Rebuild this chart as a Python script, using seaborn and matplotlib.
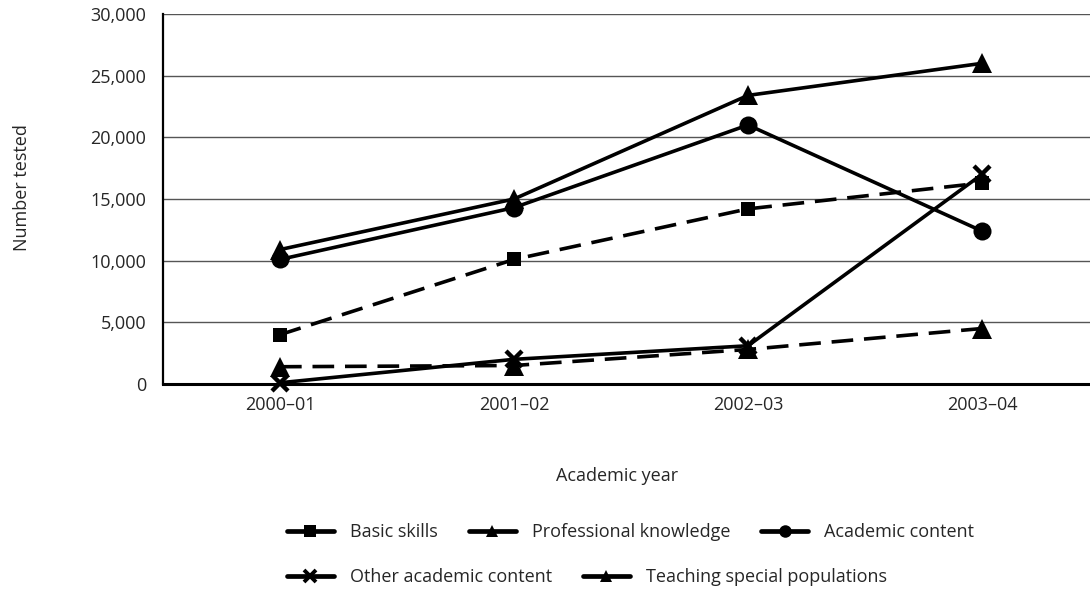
import matplotlib
matplotlib.use("Agg")
import matplotlib.pyplot as plt
from matplotlib.lines import Line2D
import seaborn as sns

# =========================
# DATA
# =========================

years = ["2000–01", "2001–02", "2002–03", "2003–04"]

basic_skills = [4000, 10100, 14200, 16300]
professional_knowledge = [10900, 15000, 23400, 26000]
academic_content = [10100, 14300, 21000, 12400]
other_academic_content = [100, 2000, 3100, 17000]
teaching_special = [1400, 1500, 2800, 4500]

y_ticks = [0, 5000, 10000, 15000, 20000, 25000, 30000]

# =========================
# STYLE
# =========================

sns.set_style("white")
plt.rcParams["font.family"] = ["Open Sans", "DejaVu Sans"]
plt.rcParams["font.size"] = 13

fig = plt.figure(figsize=(10.9, 5.9), dpi=100)
ax = fig.add_axes([163 / 1090, 1 - 384 / 590, 936 / 1090, 370 / 590])

pos = list(range(len(years)))

series = [
    ("Basic skills", basic_skills, "s", 10, "--"),
    ("Professional knowledge", professional_knowledge, "^", 14, "-"),
    ("Academic content", academic_content, "o", 13, "-"),
    ("Teaching special populations", teaching_special, "^", 14, "--"),
    ("Other academic content", other_academic_content, "x", 12, "-"),
]

for name, values, marker, ms, ls in series:
    sns.lineplot(
        x=pos,
        y=values,
        ax=ax,
        color="black",
        marker=marker,
        markersize=ms,
        markeredgecolor="black",
        markeredgewidth=3.2 if marker == "x" else 0,
        linewidth=2.6,
        linestyle=(0, (6, 3)) if ls == "--" else "-",
        clip_on=False,
        zorder=3,
    )

# =========================
# AXES
# =========================

ax.set_xlim(-0.5, 3.5)
ax.set_ylim(0, 30000)
ax.set_yticks(y_ticks)
ax.set_yticklabels([f"{v:,}" for v in y_ticks])
ax.set_xticks(pos)
ax.set_xticklabels(years)
ax.set_xticks([0.5, 1.5, 2.5], minor=True)
ax.tick_params(axis="x", which="major", length=0, pad=9)
ax.tick_params(axis="x", which="minor", direction="in", length=6, width=1.5, color="black")
ax.tick_params(axis="y", length=0, pad=12)

ax.yaxis.grid(True, color="#555555", linewidth=1.0)
ax.set_axisbelow(True)

for side in ["top", "right"]:
    ax.spines[side].set_visible(False)
ax.spines["left"].set_color("black")
ax.spines["left"].set_linewidth(1.6)
ax.spines["bottom"].set_color("black")
ax.spines["bottom"].set_linewidth(2.2)

ax.set_xlabel("")
ax.set_ylabel("")
fig.text(617 / 1090, 1 - 476 / 590, "Academic year", ha="center", va="center")
fig.text(22 / 1090, 1 - 188 / 590, "Number tested", ha="center", va="center",
         rotation=90)

# =========================
# LEGEND
# =========================

legend_order = [
    "Basic skills",
    "Professional knowledge",
    "Academic content",
    "Other academic content",
    "Teaching special populations",
]
markers = {name: marker for name, values, marker, ms, ls in series}

handles = []
for name in legend_order:
    marker = markers[name]
    handles.append(Line2D(
        [], [], color="black", marker=marker,
        markersize=9,
        markeredgewidth=2.8 if marker == "x" else 0,
        linewidth=3.4, label=name
    ))

leg_kw = dict(
    frameon=False, handlelength=2.6, handletextpad=0.9,
    columnspacing=1.7, borderaxespad=0, borderpad=0, loc="center left",
)
leg1 = fig.legend(handles=handles[:3], ncol=3,
                  bbox_to_anchor=(287 / 1090, 1 - 532 / 590), **leg_kw)
leg2 = fig.legend(handles=handles[3:], ncol=2,
                  bbox_to_anchor=(287 / 1090, 1 - 577 / 590), **leg_kw)

fig.savefig("out.png", dpi=100)
